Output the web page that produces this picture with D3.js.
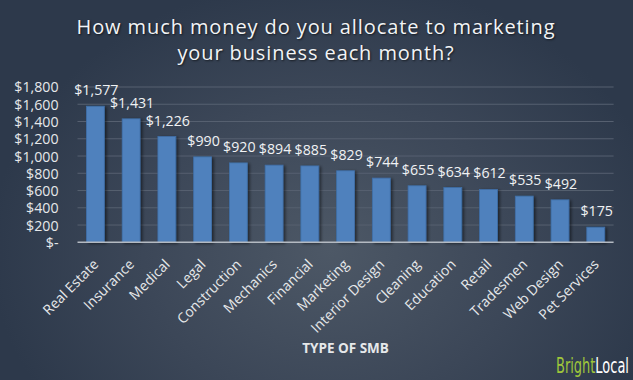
<!DOCTYPE html>
<html><head><meta charset="utf-8">
<script src="https://cdn.jsdelivr.net/npm/d3@7"></script>
<style>html,body{margin:0;padding:0;background:#2e3a4b;}svg{display:block;}</style>
</head><body>
<svg id="chart" width="633" height="380"></svg>
<script>
const categories = ["Real Estate","Insurance","Medical","Legal","Construction","Mechanics","Financial","Marketing","Interior Design","Cleaning","Education","Retail","Tradesmen","Web Design","Pet Services"];
const values = [1577,1431,1226,990,920,894,885,829,744,655,634,612,535,492,175];
const yTicks = [0,200,400,600,800,1000,1200,1400,1600,1800];
const titleLines = ["How much money do you allocate to marketing","your business each month?"];
const xTitle = "TYPE OF SMB";

const W = 633, H = 380;
const m = {left:77.5, right:633-613.6, top:87, bottom:380-242.3};
const svg = d3.select("#chart");
const defs = svg.append("defs");
const rg = defs.append("radialGradient").attr("id","bg").attr("gradientUnits","userSpaceOnUse")
  .attr("cx",330).attr("cy",250).attr("r",340).attr("gradientTransform","translate(330,250) scale(1,0.8) translate(-330,-250)");
rg.append("stop").attr("offset","0").attr("stop-color","#4d5866");
rg.append("stop").attr("offset","0.55").attr("stop-color","#3c4758");
rg.append("stop").attr("offset","1").attr("stop-color","#2d394b");
svg.append("rect").attr("width",W).attr("height",H).attr("fill","url(#bg)");

const f = defs.append("filter").attr("id","sh").attr("x","-20%").attr("y","-20%").attr("width","160%").attr("height","140%");
f.append("feGaussianBlur").attr("in","SourceAlpha").attr("stdDeviation",1.5).attr("result","b");
f.append("feOffset").attr("in","b").attr("dx",2).attr("dy",1).attr("result","o");
f.append("feComponentTransfer").attr("in","o").attr("result","o2").append("feFuncA").attr("type","linear").attr("slope",0.5);
const mg = f.append("feMerge"); mg.append("feMergeNode").attr("in","o2"); mg.append("feMergeNode").attr("in","SourceGraphic");

const x = d3.scaleBand().domain(categories).range([m.left, W-m.right]).paddingInner(0.5).paddingOuter(0.25);
const y = d3.scaleLinear().domain([0,1800]).range([H-m.bottom, m.top]);

// gridlines
svg.append("g").selectAll("line").data(yTicks.filter(d=>d>0)).join("line")
  .attr("x1",m.left).attr("x2",W-m.right).attr("y1",d=>y(d)).attr("y2",d=>y(d))
  .attr("stroke","#566070").attr("stroke-width",1);

// y axis
const yAxis = d3.axisLeft(y).tickValues(yTicks).tickSize(0).tickPadding(0)
  .tickFormat(d=> d===0 ? "$-" : "$"+d3.format(",")(d));
const ya = svg.append("g").attr("transform",`translate(${58.5},0)`).call(yAxis);
ya.select(".domain").remove();
ya.selectAll("text").attr("fill","#e6e8ea").attr("font-family","'Open Sans'").attr("font-size",14.2).attr("dy","0.35em");

// bars
svg.append("g").selectAll("rect").data(values).join("rect")
  .attr("x",(d,i)=>x(categories[i])).attr("width",x.bandwidth())
  .attr("y",d=>y(d)).attr("height",d=>y(0)-y(d))
  .attr("fill","#4f81bd").attr("stroke","#3f6fa8").attr("stroke-width",0.8).attr("filter","url(#sh)");

// data labels
svg.append("g").selectAll("text").data(values).join("text")
  .attr("x",(d,i)=>x(categories[i])+x.bandwidth()/2+1).attr("y",d=>y(d)-11)
  .attr("text-anchor","middle").attr("fill","#f0f2f4").attr("font-family","'Open Sans'").attr("font-size",14.2)
  .text(d=>"$"+d3.format(",")(d));

// x axis
const xAxis = d3.axisBottom(x).tickSize(0).tickPadding(0);
const xa = svg.append("g").attr("transform",`translate(0,${y(0)})`).call(xAxis);
xa.select(".domain").attr("stroke","#b4bac2").attr("stroke-width",1.5).attr("d",`M${m.left},0H${W-m.right}`);
xa.selectAll("text").attr("fill","#e6e8ea").attr("font-family","'Open Sans'").attr("font-size",14)
  .attr("text-anchor","end").attr("dy",0).attr("transform","translate(4,23) rotate(-45)");

// axis title
svg.append("text").attr("x",(m.left+W-m.right)/2).attr("y",353).attr("text-anchor","middle")
  .attr("fill","#e6e8ea").attr("font-family","'Open Sans'").attr("font-weight","bold").attr("font-size",13.5).text(xTitle);

// title
svg.append("g").selectAll("text").data(titleLines).join("text")
  .attr("x",316).attr("y",(d,i)=>34+i*26).attr("text-anchor","middle")
  .attr("fill","#f2f4f6").attr("font-family","'Open Sans'").attr("font-size",20).attr("letter-spacing",0.9)
  .style("text-shadow","1px 1px 2px rgba(0,0,0,0.6)").text(d=>d);

// logo
const logoG = svg.append("g");
const logo = logoG.append("text").attr("x",0).attr("y",0)
  .attr("font-family","'Liberation Sans Narrow','DejaVu Sans Condensed','Roboto'").attr("font-size",21);
logo.append("tspan").attr("fill","#9fc63b").text("Bright");
logo.append("tspan").attr("fill","#ffffff").text("Local");
const lw = logo.node().getComputedTextLength();
const sx = Math.min(1, 73 / lw);
logoG.attr("transform",`translate(556,373) scale(${sx},1)`);
</script>
</body></html>
